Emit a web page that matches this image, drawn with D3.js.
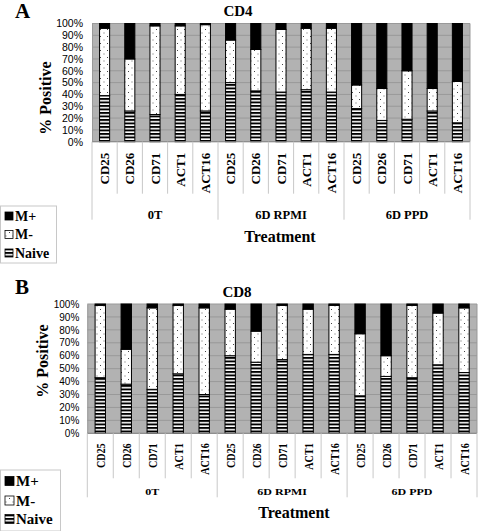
<!DOCTYPE html>
<html><head><meta charset="utf-8">
<script src="https://cdn.jsdelivr.net/npm/d3@7"></script>
<style>body{margin:0;background:#fff}svg{display:block}</style></head>
<body>
<svg id="c" width="480" height="531"></svg>
<script>
// ---- data ----
const categories = ["CD25", "CD26", "CD71", "ACT1", "ACT16"];
const groups = ["0T", "6D RPMI", "6D PPD"];
const yTicks = [0, 10, 20, 30, 40, 50, 60, 70, 80, 90, 100];
const legendNames = ["M+", "M-", "Naive"];

const cd4Naive  = [39, 26, 23, 40, 26, 50, 43, 42, 44, 42, 28, 18, 19, 26, 16];
const cd4MMinus = [57, 44, 75, 58, 73, 36, 35, 53, 52, 54, 20, 27, 41, 19, 35];
const cd4MPlus  = [ 4, 30,  2,  2,  1, 14, 22,  5,  4,  4, 52, 55, 40, 55, 49];

const cd8Naive  = [43, 38, 34, 46, 30, 60, 55, 57, 61, 61, 29, 44, 43, 53, 47];
const cd8MMinus = [56, 27, 63, 53, 67, 36, 24, 42, 35, 38, 48, 16, 56, 40, 50];
const cd8MPlus  = [ 1, 35,  3,  1,  3,  4, 21,  1,  4,  1, 23, 40,  1,  7,  3];

// ---- drawing ----
const svg = d3.select("#c");
const defs = svg.append("defs");
const stripe = defs.append("pattern").attr("id", "stripes")
  .attr("patternUnits", "userSpaceOnUse").attr("width", 6).attr("height", 3.5);
stripe.append("rect").attr("width", 6).attr("height", 3.5).attr("fill", "#fff");
stripe.append("rect").attr("width", 6).attr("height", 1.9).attr("fill", "#000");
const dots = defs.append("pattern").attr("id", "dots")
  .attr("patternUnits", "userSpaceOnUse").attr("width", 7).attr("height", 7);
dots.append("rect").attr("width", 7).attr("height", 7).attr("fill", "#fff");
dots.append("rect").attr("x", 2).attr("y", 1).attr("width", 1).attr("height", 1).attr("fill", "#444");
dots.append("rect").attr("x", 5.5).attr("y", 4.5).attr("width", 1).attr("height", 1).attr("fill", "#666");

const fills = { naive: "url(#stripes)", mminus: "url(#dots)", mplus: "#000" };
const legendFill = { "M+": "#000", "M-": "url(#dots)", "Naive": "url(#stripes)" };
const serif = "'Liberation Serif','Times New Roman',serif";
const sans = "'Liberation Sans',Arial,sans-serif";

function panel(o) {
  const g = svg.append("g");
  const labels = [];
  groups.forEach(gr => categories.forEach(c => labels.push(c)));
  const rows = o.naive.map((v, i) => ({ i, naive: v, mminus: o.mminus[i], mplus: o.mplus[i] }));
  const x = d3.scaleBand().domain(d3.range(rows.length)).range([o.left, o.right])
    .paddingInner(o.pad).paddingOuter(o.pad / 2);
  const step = x.step();
  const y = d3.scaleLinear().domain([0, 100]).range([o.bottom, o.top]);

  // plot background
  g.append("rect").attr("x", o.left).attr("y", o.top)
    .attr("width", o.right - o.left).attr("height", o.bottom - o.top).attr("fill", "#b2b2b2");
  g.append("g").selectAll("line").data(yTicks).join("line")
    .attr("x1", o.left).attr("x2", o.right).attr("y1", d => y(d)).attr("y2", d => y(d))
    .attr("stroke", "#999").attr("stroke-width", 1);
  g.append("line").attr("x1", o.right).attr("x2", o.right).attr("y1", o.top).attr("y2", o.bottom)
    .attr("stroke", "#999");

  // y axis
  const ya = g.append("g").attr("transform", `translate(${o.left},0)`)
    .call(d3.axisLeft(y).tickValues(yTicks).tickFormat(d => d + "%").tickSize(0).tickPadding(o.yPad));
  ya.select(".domain").attr("stroke", "#999");
  ya.selectAll("text").attr("font-family", sans).attr("font-size", o.yFont).attr("fill", "#000");

  // bars
  const stack = d3.stack().keys(["naive", "mminus", "mplus"])(rows);
  stack.forEach(layer => {
    g.append("g").selectAll("rect").data(layer).join("rect")
      .attr("x", d => x(d.data.i)).attr("width", x.bandwidth())
      .attr("y", d => y(d[1])).attr("height", d => y(d[0]) - y(d[1]))
      .attr("fill", fills[layer.key]).attr("stroke", "#000").attr("stroke-width", 1);
  });

  // x axis line
  g.append("line").attr("x1", o.left).attr("x2", o.right).attr("y1", o.bottom).attr("y2", o.bottom)
    .attr("stroke", "#888");
  // separators
  d3.range(rows.length + 1).forEach(i => {
    const xx = o.left + i * step;
    const isGroup = i % categories.length === 0;
    g.append("line").attr("x1", xx).attr("x2", xx).attr("y1", o.bottom)
      .attr("y2", o.bottom + (isGroup ? o.grpSep : o.catSep))
      .attr("stroke", "#c8c8c8").attr("stroke-width", 1);
  });
  // category labels
  g.append("g").selectAll("text").data(labels).join("text")
    .attr("transform", (d, i) => `translate(${x(i) + x.bandwidth() / 2},${o.bottom + o.catOff}) rotate(-90) scale(${o.catScale},1)`)
    .attr("text-anchor", "end").attr("dy", "0.35em")
    .attr("font-family", serif).attr("font-weight", "bold").attr("font-size", o.catFont)
    .text(d => d);
  // group labels
  g.append("g").selectAll("text").data(groups).join("text")
    .attr("transform", (d, i) => `translate(${o.left + (i * 5 + 2.5) * step},${o.grpY}) scale(1,${o.grpScale})`)
    .attr("text-anchor", "middle")
    .attr("font-family", serif).attr("font-weight", "bold").attr("font-size", o.grpFont)
    .text(d => d);
  // Treatment
  g.append("text").attr("x", o.treatX).attr("y", o.treatY).attr("text-anchor", "middle")
    .attr("font-family", serif).attr("font-weight", "bold").attr("font-size", 16).text("Treatment");
  // y title
  g.append("text").attr("transform", `translate(${o.posX},${o.posY}) rotate(-90)`)
    .attr("text-anchor", "middle").attr("font-family", serif).attr("font-weight", "bold")
    .attr("font-size", 16).text("% Positive");
  // chart title
  g.append("text").attr("x", o.titleX).attr("y", o.titleY).attr("text-anchor", "middle")
    .attr("font-family", serif).attr("font-weight", "bold").attr("font-size", 15).text(o.title);
  // panel letter
  g.append("text").attr("x", 15).attr("y", o.letterY)
    .attr("font-family", serif).attr("font-weight", "bold").attr("font-size", 21).text(o.letter);

  // legend
  const L = o.legend;
  g.append("rect").attr("x", L.x).attr("y", L.y).attr("width", L.w).attr("height", L.h)
    .attr("fill", "#fff").attr("stroke", "#c8c8c8");
  legendNames.forEach((n, i) => {
    const cy = L.ys[i];
    g.append("rect").attr("x", L.sx).attr("y", cy - L.s / 2).attr("width", L.s).attr("height", L.s)
      .attr("fill", legendFill[n]).attr("stroke", "#000").attr("stroke-width", 0.8);
    g.append("text").attr("x", L.tx).attr("y", cy).attr("dy", "0.35em")
      .attr("font-family", serif).attr("font-weight", "bold").attr("font-size", L.font).text(n);
  });
}

panel({
  naive: cd4Naive, mminus: cd4MMinus, mplus: cd4MPlus,
  left: 92, right: 470, top: 23.5, bottom: 141.7, pad: 0.6,
  yFont: 10.5, yPad: 9,
  catFont: 13, catOff: 11, catScale: 1, catSep: 52, grpSep: 78,
  grpFont: 12.5, grpY: 218.5, grpScale: 1,
  treatX: 280, treatY: 242, posX: 51, posY: 98,
  title: "CD4", titleX: 238, titleY: 16, letter: "A", letterY: 18,
  legend: { x: 0.5, y: 206, w: 56, h: 57, ys: [216, 234.5, 253], sx: 5, s: 8, tx: 15, font: 14 }
});
panel({
  naive: cd8Naive, mminus: cd8MMinus, mplus: cd8MPlus,
  left: 87.3, right: 477, top: 304, bottom: 433.3, pad: 0.6,
  yFont: 10, yPad: 8,
  catFont: 13, catOff: 10, catScale: 0.78, catSep: 45, grpSep: 64,
  grpFont: 12, grpY: 494.5, grpScale: 0.75,
  treatX: 294, treatY: 517.5, posX: 48, posY: 361,
  title: "CD8", titleX: 237, titleY: 297, letter: "B", letterY: 294,
  legend: { x: 0.5, y: 470, w: 60, h: 61, ys: [481, 500.5, 519], sx: 5, s: 9, tx: 16, font: 15 }
});
</script>
</body></html>
